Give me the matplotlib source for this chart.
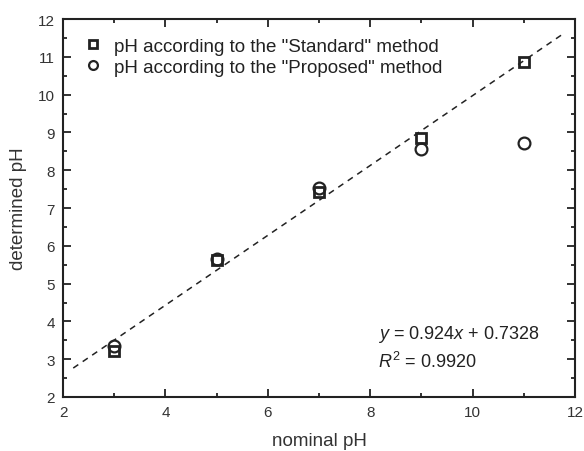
import matplotlib
matplotlib.use("Agg")
import matplotlib.pyplot as plt
from matplotlib.ticker import MultipleLocator
import numpy as np

plt.rcParams['font.family'] = ['Liberation Sans', 'DejaVu Sans']
plt.rcParams['mathtext.fontset'] = 'custom'
plt.rcParams['mathtext.it'] = 'Liberation Sans:italic'
plt.rcParams['mathtext.rm'] = 'Liberation Sans'

nominal = [3, 5, 7, 9, 11]
standard = [3.22, 5.62, 7.42, 8.84, 10.85]
proposed = [3.35, 5.65, 7.52, 8.57, 8.71]
slope, intercept = 0.924, 0.7328
fit_x = [2.2, 11.8]

fig = plt.figure(figsize=(5.84, 4.52), dpi=100)
ax = fig.add_axes([63/584, 1-398/452, 512/584, 378/452])

ax.plot(nominal, standard, linestyle='none', marker='s', markersize=7.5,
        markerfacecolor='white', markeredgecolor='#222222', markeredgewidth=2,
        label='pH according to the "Standard" method')
ax.plot(nominal, proposed, linestyle='none', marker='o', markersize=8.5,
        markerfacecolor='none', markeredgecolor='#222222', markeredgewidth=1.6,
        label='pH according to the "Proposed" method')
fx = np.array(fit_x)
ax.plot(fx, slope*fx + intercept, linestyle=(0, (4, 3.5)), color='#222222', lw=1.1)

ax.set_xlim(2, 12)
ax.set_ylim(2, 12)
ax.xaxis.set_major_locator(MultipleLocator(2))
ax.xaxis.set_minor_locator(MultipleLocator(1))
ax.yaxis.set_major_locator(MultipleLocator(1))
ax.yaxis.set_minor_locator(MultipleLocator(0.5))
ax.tick_params(which='both', direction='in', top=True, right=True, width=1.3, labelsize=11, colors='#222222')
ax.tick_params(which='major', length=6, pad=6)
ax.tick_params(which='minor', length=3)
ax.tick_params(axis='both', labelcolor='#333333')
for s in ax.spines.values():
    s.set_linewidth(1.5)
    s.set_color('#222222')

ax.set_xlabel('nominal pH', fontsize=13.5, color='#333333', labelpad=9)
ax.set_ylabel('determined pH', fontsize=13.5, color='#333333', labelpad=8)

leg = ax.legend(loc='upper left', frameon=False, fontsize=13.5, handletextpad=0.5,
                borderaxespad=0.6, labelspacing=0.2, handlelength=1.2,
                markerscale=0.75)
for t in leg.get_texts():
    t.set_color('#222222')

ax.text(8.15, 3.667, r'$\it{y}$ = 0.924$\it{x}$ + 0.7328', fontsize=13, color='#222222', va='center')
ax.text(8.15, 2.952, r'$\it{R}^2$ = 0.9920', fontsize=13, color='#222222', va='center')

fig.savefig('out.png', dpi=100)
